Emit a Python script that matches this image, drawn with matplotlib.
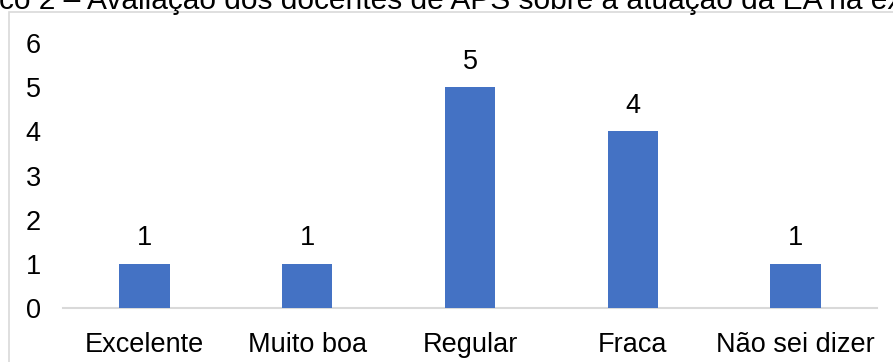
#!/usr/bin/env python3
"""Bar chart: evaluation of APS teachers on EA performance."""
import matplotlib
matplotlib.use('Agg')
import matplotlib.pyplot as plt
from matplotlib.patches import Rectangle

plt.rcParams['font.family'] = ['Liberation Sans', 'DejaVu Sans']

categories = ['Excelente', 'Muito boa', 'Regular', 'Fraca', 'Não sei dizer']
counts = [1, 1, 5, 4, 1]
y_ticks = [0, 1, 2, 3, 4, 5, 6]
title = 'co 2 – Avaliação dos docentes de APS sobre a atuação da EA na ex'

BAR_COLOR = '#4472C4'
AXIS_GRAY = '#D9D9D9'
FS = 19.5

fig = plt.figure(figsize=(8.93, 3.62), dpi=100)
ax = fig.add_axes([0.0706, 0.149, 0.9114, 0.732])

x = range(len(categories))
bars = ax.bar(x, counts, width=0.31, color=BAR_COLOR, zorder=3)
for rect, v in zip(bars, counts):
    ax.annotate(str(v), (rect.get_x() + rect.get_width() / 2, rect.get_height()),
                xytext=(0, 9), textcoords='offset points',
                ha='center', va='bottom', fontsize=FS)

ax.set_xlim(-0.5, len(categories) - 0.5)
ax.set_ylim(0, 6)
ax.set_yticks(y_ticks)
ax.set_xticks(list(x))
ax.set_xticklabels(categories, fontsize=FS)
ax.tick_params(axis='y', length=0, pad=16, labelsize=FS)
ax.tick_params(axis='x', length=0, pad=17)
for side in ('top', 'right', 'left'):
    ax.spines[side].set_visible(False)
ax.spines['bottom'].set_color(AXIS_GRAY)
ax.spines['bottom'].set_linewidth(1.5)

# chart-area frame, cropped on the right and bottom in the source
fig.patches.append(Rectangle((9 / 893, -0.1), 1.2, 1 - 12 / 362 + 0.1,
                             transform=fig.transFigure, fill=False,
                             edgecolor=AXIS_GRAY, linewidth=1.2))
fig.text(-1 / 893, 1 - 9 / 362, title, fontsize=21.5, ha='left',
         va='baseline')

fig.savefig('out.png', dpi=100)
